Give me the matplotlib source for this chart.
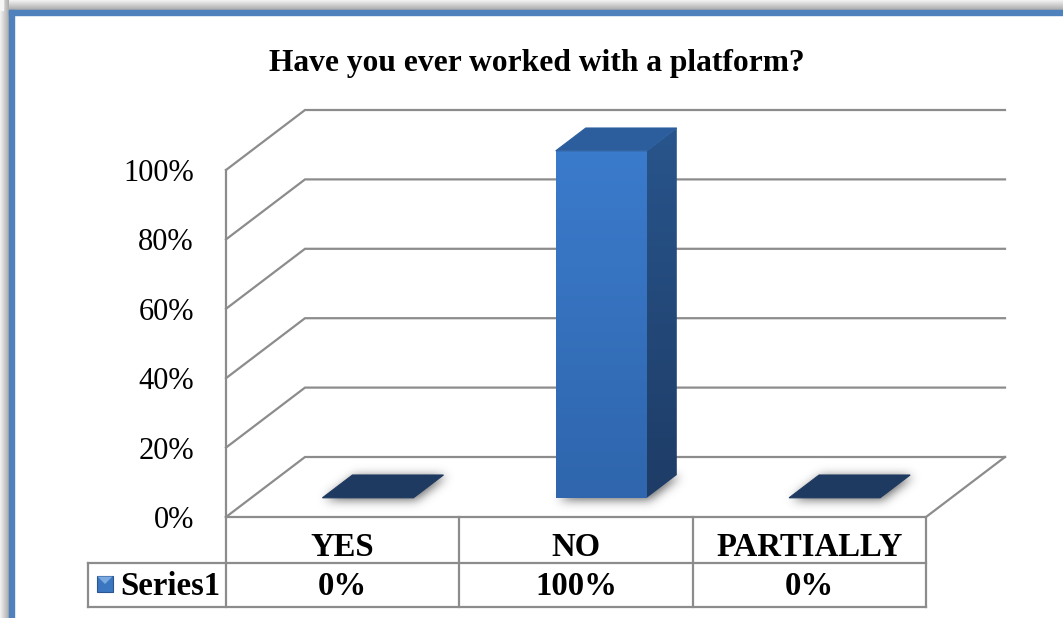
#!/usr/bin/env python3
# -*- coding: utf-8 -*-
"""3-D style column chart with a data table underneath, saved to out.png."""

import numpy as np
import matplotlib
matplotlib.use("Agg")
import matplotlib.pyplot as plt
import matplotlib.transforms as mtransforms
from matplotlib.colors import to_rgb
from matplotlib.patches import Polygon, Rectangle
from matplotlib.path import Path

# --- data -------------------------------------------------------------------
categories = ["YES", "NO", "PARTIALLY"]
values = [0.0, 1.0, 0.0]
series_name = "Series1"
tick_values = [0.0, 0.2, 0.4, 0.6, 0.8, 1.0]
title = "Have you ever worked with a platform?"

# --- layout (pixels) ----------------------------------------------------------
W, H = 1063, 618
PX_LEFT, PX_RIGHT = 226, 926      # front edge of the floor
PX_ZERO, PX_TOP = 517, 170        # 0 % and 100 % on the front plane
DEPTH_PX = (79, 60)               # oblique shift to the back wall
BAR_WIDTH = 0.39                  # in category units
BAR_DEPTH = (0.32, 0.70)          # front / back of the bars as fraction of depth
TABLE_ROWS = (517, 563, 607)
SERIES_LEFT = 88

FONT = "Liberation Serif"
GRID = "#8c8c8c"
plt.rcParams["font.family"] = [FONT, "DejaVu Serif"]

fig = plt.figure(figsize=(W / 100, H / 100), dpi=100)

# pixel-space axes for the frame, title and table rows
frame = fig.add_axes([0, 0, 1, 1])
frame.set_xlim(0, W)
frame.set_ylim(H, 0)
frame.axis("off")

# data axes: x in categories, y in value fraction
cw = (PX_RIGHT - PX_LEFT) / len(categories)
vh = PX_ZERO - PX_TOP
ax = fig.add_axes([0, 0, 1, 1], facecolor="none")
ax.set_xlim(-PX_LEFT / cw, (W - PX_LEFT) / cw)
ax.set_ylim((PX_ZERO - H) / vh, PX_ZERO / vh)
ax.axis("off")
DX, DY = DEPTH_PX[0] / cw, DEPTH_PX[1] / vh


def proj(x, v, d):
    """Oblique projection of (category x, value v, depth d) into data coords."""
    return (x + d * DX, v + d * DY)


def gradient_image(target, extent, c0, c1, z, clip, horizontal=False):
    t = np.linspace(0, 1, 64)
    a, b = np.array(to_rgb(c0)), np.array(to_rgb(c1))
    cols = a[None, :] * (1 - t[:, None]) + b[None, :] * t[:, None]
    img = cols[None, :, :] if horizontal else cols[:, None, :]
    im = target.imshow(img, extent=extent, origin="upper", aspect="auto",
                       interpolation="bilinear", zorder=z)
    if clip is not None:
        im.set_clip_path(clip)
    return im


def gradient_poly(pts, c0, c1, z, horizontal=False):
    poly = Polygon(pts, closed=True, facecolor="none", edgecolor="none", zorder=z)
    ax.add_patch(poly)
    xs, ys = zip(*pts)
    gradient_image(ax, (min(xs), max(xs), min(ys), max(ys)), c0, c1, z, poly,
                   horizontal)


def soft_shadow(pts, blur=4.0, shift=(2, -2), strength=0.6, z=2):
    """Blurred grey shadow of a polygon given in data coordinates."""
    disp = ax.transData.transform(pts) + np.array(shift)
    pad = int(blur * 4)
    x0, y0 = np.floor(disp.min(axis=0)) - pad
    x1, y1 = np.ceil(disp.max(axis=0)) + pad
    xs = np.arange(x0, x1) + 0.5
    ys = np.arange(y0, y1) + 0.5
    gx, gy = np.meshgrid(xs, ys)
    mask = Path(disp).contains_points(np.c_[gx.ravel(), gy.ravel()])
    mask = mask.reshape(gx.shape).astype(float)
    k = np.arange(-pad, pad + 1)
    kern = np.exp(-0.5 * (k / blur) ** 2)
    kern /= kern.sum()
    mask = np.apply_along_axis(lambda r: np.convolve(r, kern, mode="same"), 1, mask)
    mask = np.apply_along_axis(lambda c: np.convolve(c, kern, mode="same"), 0, mask)
    rgba = np.zeros(mask.shape + (4,))
    rgba[..., :3] = 0.35
    rgba[..., 3] = np.clip(mask * strength, 0, 1)
    inv = ax.transData.inverted()
    (ex0, ey0), (ex1, ey1) = inv.transform([(x0, y0), (x1, y1)])
    ax.imshow(rgba, extent=(ex0, ex1, ey0, ey1), origin="lower", aspect="auto",
              interpolation="bilinear", zorder=z)


# --- outer frame with drop shadow --------------------------------------------
gradient_image(frame, (0, W, 10, 0), "#f4f4f4", "#a9a9a9", 0, None)
gradient_image(frame, (0, 9, H, 0), "#f4f4f4", "#a9a9a9", 0, None, horizontal=True)
frame.add_patch(Rectangle((0, 0), 3, 10, color="#f6f6f6", zorder=0.5))
frame.add_patch(Rectangle((9, 10), W, H, facecolor="white", edgecolor="none", zorder=0.6))
frame.add_patch(Rectangle((9, 10), W - 9, 5, color="#4f81bd", zorder=0.7))
frame.add_patch(Rectangle((9, 10), 5, H - 10, color="#4f81bd", zorder=0.7))

frame.text(537, 71, title, ha="center", va="baseline", fontsize=22.7,
           fontweight="bold", color="black", zorder=5)

# --- walls, floor and gridlines ---------------------------------------------
n = len(categories)
for v in tick_values:
    pts = [proj(0, v, 0), proj(0, v, 1), proj(n, v, 1)]
    ax.plot(*zip(*pts), color=GRID, lw=1.6, zorder=1, solid_joinstyle="miter")
ax.plot(*zip(proj(0, 0, 0), proj(0, 1, 0)), color=GRID, lw=1.6, zorder=1)
ax.plot(*zip(proj(0, 0, 0), proj(n, 0, 0), proj(n, 0, 1)), color=GRID, lw=1.6, zorder=1)

label_tf = mtransforms.offset_copy(ax.transData, fig=fig, x=-32, y=-11, units="dots")
for v in tick_values:
    ax.text(0, v, f"{v:.0%}", transform=label_tf, ha="right", va="baseline",
            fontsize=22, color="black")

# --- bars --------------------------------------------------------------------
d0, d1 = BAR_DEPTH
for i, v in enumerate(values):
    xl = i + (1 - BAR_WIDTH) / 2
    xr = xl + BAR_WIDTH
    base = [proj(xl, 0, d0), proj(xr, 0, d0), proj(xr, 0, d1), proj(xl, 0, d1)]
    soft_shadow(base, blur=5, shift=(3, -2), strength=0.95, z=2)
    if v <= 0:
        ax.add_patch(Polygon(base, closed=True, facecolor="#1f3a60",
                             edgecolor="#1f3a60", lw=0.8, zorder=3))
        continue
    front = [proj(xl, 0, d0), proj(xr, 0, d0), proj(xr, v, d0), proj(xl, v, d0)]
    side = [proj(xr, 0, d0), proj(xr, 0, d1), proj(xr, v, d1), proj(xr, v, d0)]
    top = [proj(xl, v, d0), proj(xr, v, d0), proj(xr, v, d1), proj(xl, v, d1)]
    gradient_poly(front, "#3b7bcc", "#2f66ad", 3)
    gradient_poly(side, "#28558c", "#1e3c66", 3)
    ax.add_patch(Polygon(top, closed=True, facecolor="#2c5e9e",
                         edgecolor="#2c5e9e", lw=0.8, zorder=3))

# --- data table --------------------------------------------------------------
tbl = mtransforms.blended_transform_factory(ax.transData, frame.transData)
r0, r1, r2 = TABLE_ROWS
x_series = -(PX_LEFT - SERIES_LEFT) / cw
tkw = dict(color=GRID, lw=1.6, transform=tbl, zorder=4)
ax.plot([0, n], [r1, r1], **tkw)
ax.plot([x_series, n], [r2, r2], **tkw)
ax.plot([x_series, x_series], [r1, r2], **tkw)
ax.plot([x_series, 0], [r1, r1], **tkw)
for k in range(n + 1):
    ax.plot([k, k], [r0, r2], **tkw)

for i, (cat, v) in enumerate(zip(categories, values)):
    ax.text(i + 0.5, 556, cat, transform=tbl, ha="center", va="baseline",
            fontsize=23.6, fontweight="bold", zorder=5)
    ax.text(i + 0.5, 595, f"{v:.0%}", transform=tbl, ha="center", va="baseline",
            fontsize=23.6, fontweight="bold", zorder=5)

# legend key and series name
key = Rectangle((97, 576), 16, 16, facecolor="#3b76c0", edgecolor="#2a5590",
                lw=0.8, zorder=5)
frame.add_patch(key)
frame.add_patch(Polygon([(97.5, 576.5), (112.5, 576.5), (105, 584)], closed=True,
                        facecolor="#7aaae0", edgecolor="none", zorder=5.5))
frame.text(120, 595, series_name, ha="left", va="baseline", fontsize=23.6,
           fontweight="bold", zorder=5)

fig.savefig("out.png", dpi=100)
